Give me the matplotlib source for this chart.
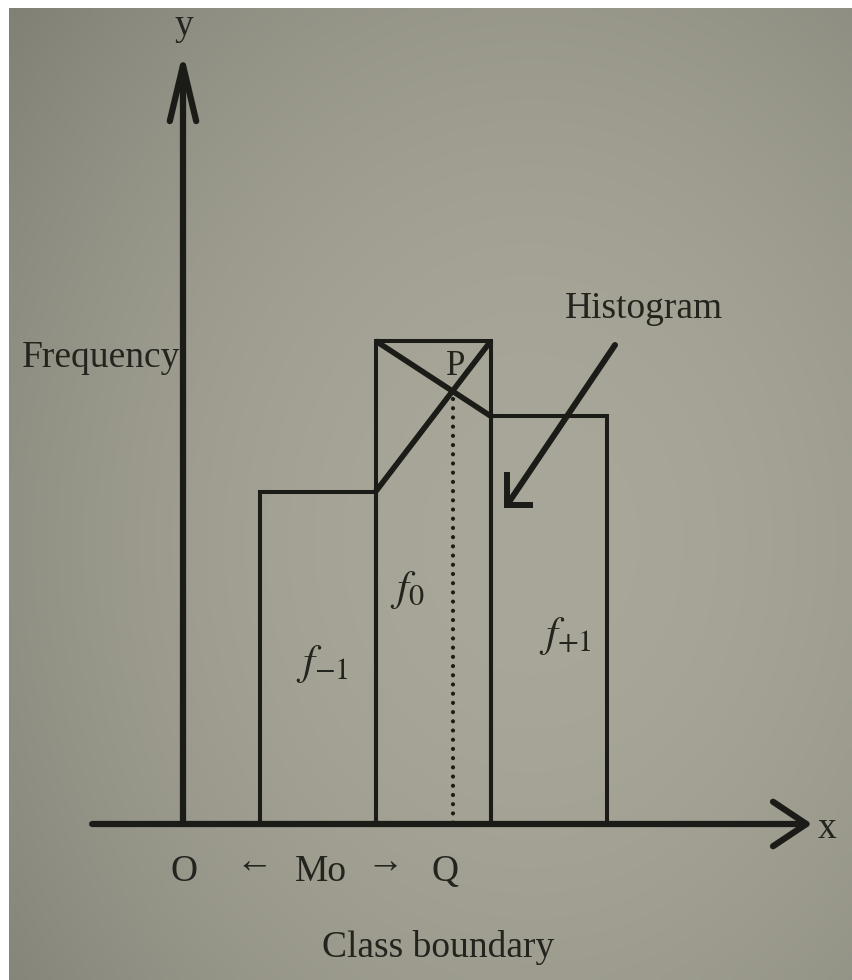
import numpy as np
import matplotlib
matplotlib.use("Agg")
import matplotlib.pyplot as plt
from matplotlib.lines import Line2D

# class boundaries and frequencies of the three classes around the modal class
boundaries = [2, 5, 8, 11]
freqs = [22, 32, 27]
bar_names = [r"$f_{-1}$", r"$f_0$", r"$f_{+1}$"]

W, H = 852, 980
X0_PX, Y0_PX = 183, 824          # where the origin O sits on the page
PX_PER_X, PX_PER_Y = 38.5, 15.1

INK = "#1b1b17"
TEXT = "#24241f"
SERIF = ["Liberation Serif", "DejaVu Serif"]

plt.rcParams["mathtext.fontset"] = "stix"


def fig_xy(px, py):
    return px / W, 1 - py / H


fig = plt.figure(figsize=(W / 100, H / 100), dpi=100, facecolor="white")

# paper background, a little darker towards the corners
bg = fig.add_axes([9 / W, 0, 1 - 9 / W, 1 - 8 / H], zorder=-5)
yy, xx = np.mgrid[0:1:120j, 0:1:110j]
r = np.hypot((xx - 0.62) / 0.75, (yy - 0.55) / 0.8)
shade = np.clip(1 - 0.2 * r ** 2, 0, 1)[..., None]
paper = np.array([168, 167, 153]) / 255 * shade
bg.imshow(np.clip(paper, 0, 1), aspect="auto", interpolation="bicubic")
bg.axis("off")

ax = fig.add_axes([0, 0, 1, 1], zorder=1)
ax.patch.set_alpha(0)
ax.set_xlim(-X0_PX / PX_PER_X, (W - X0_PX) / PX_PER_X)
ax.set_ylim(-(H - Y0_PX) / PX_PER_Y, Y0_PX / PX_PER_Y)
ax.axis("off")

lefts = boundaries[:-1]
widths = np.diff(boundaries)
ax.bar(lefts, freqs, width=widths, align="edge", fill=False,
       edgecolor=INK, linewidth=2.9, zorder=2)

# crossing lines inside the modal class
L, h = boundaries[1], widths[1]
f_m1, f0, f_p1 = freqs
ax.plot([boundaries[1], boundaries[2]], [f0, f_p1], color=INK, lw=4.0,
        solid_capstyle="butt", zorder=3)
ax.plot([boundaries[1], boundaries[2]], [f_m1, f0], color=INK, lw=4.0,
        solid_capstyle="butt", zorder=3)

d1, d2 = f0 - f_m1, f0 - f_p1
mode = L + d1 / (d1 + d2) * h
p_y = f0 + (f_p1 - f0) * (mode - L) / h
ax.plot([mode, mode], [p_y - 0.5, 0], color=INK, lw=3.0,
        linestyle=(0, (0.01, 2.2)), dash_capstyle="round", zorder=3)

# axes with open arrow heads
x_start = -2.36
x_tip = (812 - X0_PX) / PX_PER_X
y_tip = (Y0_PX - 52) / PX_PER_Y
ax.annotate("", xy=(x_tip, 0), xytext=(x_start, 0),
            arrowprops=dict(arrowstyle="->, head_length=24, head_width=16",
                            mutation_scale=1, lw=4.5, color=INK,
                            shrinkA=0, shrinkB=0), zorder=4)
ax.annotate("", xy=(0, y_tip), xytext=(0, 0),
            arrowprops=dict(arrowstyle="->, head_length=40, head_width=9.5",
                            mutation_scale=1, lw=4.5, color=INK,
                            shrinkA=0, shrinkB=0), zorder=4)

# pointer to the histogram: slanted shaft, square corner head
ax.annotate("", xy=fig_xy(507, 505), xycoords="figure fraction",
            xytext=fig_xy(615, 345), textcoords="figure fraction",
            arrowprops=dict(arrowstyle="-", lw=4.3, color=INK,
                            shrinkA=0, shrinkB=0), zorder=4)
head = [fig_xy(507, 472), fig_xy(507, 505), fig_xy(533, 505)]
fig.add_artist(Line2D([p[0] for p in head], [p[1] for p in head],
                      transform=fig.transFigure, color=INK, lw=4.3,
                      solid_joinstyle="miter", solid_capstyle="butt", zorder=4))

fs = 27
txt = dict(color=TEXT, family=SERIF)
fig.text(*fig_xy(184, 26), "y", fontsize=fs, ha="center", va="center", **txt)
fig.text(*fig_xy(827, 829), "x", fontsize=fs, ha="center", va="center", **txt)
fig.text(*fig_xy(22, 367), "Frequency", fontsize=fs, ha="left", va="baseline", **txt)
fig.text(*fig_xy(565, 318), "Histogram", fontsize=fs, ha="left", va="baseline", **txt)
fig.text(*fig_xy(184, 881), "O", fontsize=fs, ha="center", va="baseline", **txt)
fig.text(*fig_xy(254, 872), "\u2190", fontsize=fs, ha="center", va="baseline", **txt)
fig.text(*fig_xy(321, 881), "Mo", fontsize=fs, ha="center", va="baseline", **txt)
fig.text(*fig_xy(385, 872), "\u2192", fontsize=fs, ha="center", va="baseline", **txt)
fig.text(*fig_xy(445, 881), "Q", fontsize=fs, ha="center", va="baseline", **txt)
fig.text(*fig_xy(322, 957), "Class boundary", fontsize=fs, ha="left", va="baseline", **txt)

# P sits just above the crossing point
mode_px = X0_PX + mode * PX_PER_X
fig.text(*fig_xy(mode_px + 3, 375), "P", fontsize=fs - 2, ha="center", va="baseline", **txt)

label_px = [(322, 664), (407, 590), (565, 636)]
for name, (lx, ly) in zip(bar_names, label_px):
    fig.text(*fig_xy(lx, ly), name, fontsize=31, ha="center", va="center", color=TEXT)

fig.savefig("out.png", dpi=100, facecolor="white")
